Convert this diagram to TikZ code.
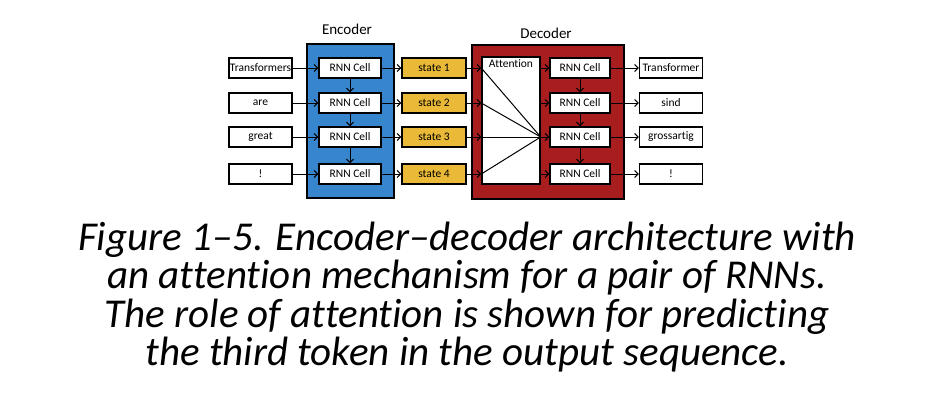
\documentclass[tikz,border=0pt]{standalone}
\usepackage{fontspec}
\setmainfont{Carlito}[Ligatures=CommonOff]
\usetikzlibrary{arrows.meta,positioning}

\definecolor{encblue}{RGB}{55,133,204}
\definecolor{decred}{RGB}{168,30,30}
\definecolor{stateyellow}{RGB}{233,185,55}

\tikzset{
  wordbox/.style={draw, line width=1.4pt, fill=white, minimum width=63pt,
    minimum height=20pt, inner sep=0pt, font=\fontsize{11.5}{12}\selectfont},
  cellbox/.style={wordbox, minimum width=62pt},
  statebox/.style={wordbox, fill=stateyellow, minimum width=64pt},
  flow/.style={-{Straight Barb[length=3.5pt,width=7pt]}, line width=1pt},
}

\begin{document}
\begin{tikzpicture}[x=1pt, y=-1pt]
  \useasboundingbox (0,0) rectangle (931,400);
  % encoder and decoder blocks
  \draw[line width=1.4pt, fill=encblue] (307,44) rectangle (394,198);
  \draw[line width=1.4pt, fill=decred] (472,45) rectangle (624,199);
  \node[font=\fontsize{15}{16}\selectfont] (enclabel) at (347,29) {Encoder};
  \node[font=\fontsize{15}{16}\selectfont] (declabel) at (546,33) {Decoder};

  % one row per token
  \foreach \i/\y/\src/\dst in {1/68/Transformers/Transformer, 2/103/are/sind,
      3/137/great/grossartig, 4/174/!/!} {
    \node[wordbox] (in\i) at (260.5,\y) {\src};
    \node[cellbox] (enc\i) at (350,\y) {RNN Cell};
    \node[statebox] (st\i) at (434,\y) {state \i};
    \node[cellbox, minimum width=60pt] (dec\i) at (580,\y) {RNN Cell};
    \node[wordbox] (out\i) at (671,\y) {\dst};
  }

  % attention
  \node[wordbox, minimum width=58pt, minimum height=127pt] (att) at (511,120.5) {};
  \node[anchor=north, font=\fontsize{11.5}{12}\selectfont, inner sep=3pt]
    (atttext) at (att.north) {Attention};
  \coordinate (focus) at (att.east |- dec3);

  \foreach \i in {1,...,4} {
    \draw[flow] (in\i) -- (enc\i);
    \draw[flow] (enc\i) -- (st\i);
    \draw[flow] (st\i) -- (att.west |- st\i);
    \draw[line width=1pt] (att.west |- st\i) -- (focus);
    \draw[flow] (att.east |- dec\i) -- (dec\i);
    \draw[flow] (dec\i) -- (out\i);
  }
  \foreach \i/\j in {1/2, 2/3, 3/4} {
    \draw[flow] (enc\i) -- (enc\j);
    \draw[flow] (dec\i) -- (dec\j);
  }

  % caption
  \node[align=center, font=\itshape\fontsize{41}{38.5}\selectfont] (caption)
    at (467,297) {Figure 1–5. Encoder–decoder architecture with\\
    an attention mechanism for a pair of RNNs.\\
    The role of attention is shown for predicting\\
    the third token in the output sequence.};
\end{tikzpicture}
\end{document}
